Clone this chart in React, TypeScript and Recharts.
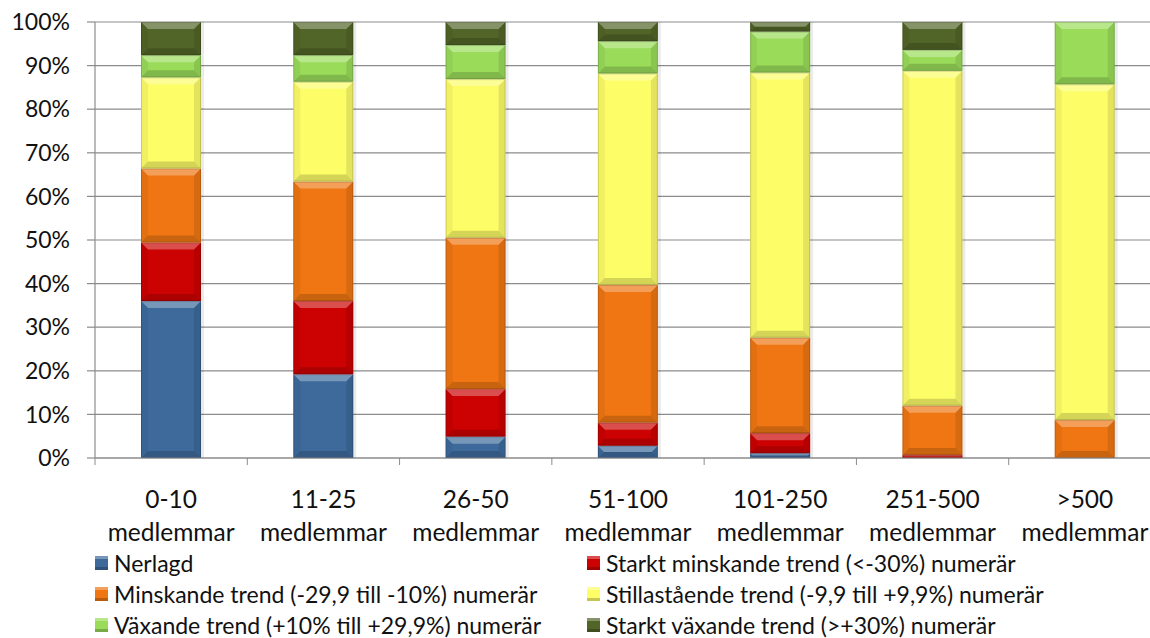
import { BarChart, Bar, XAxis, YAxis, CartesianGrid, Legend } from "recharts";

const groups = ["0-10", "11-25", "26-50", "51-100", "101-250", "251-500", ">500"];
const unitLabel = "medlemmar";

const nerlagd = [36.0, 19.2, 4.9, 2.8, 1.1, 0, 0];
const starktMinskande = [13.4, 16.8, 10.9, 5.3, 4.6, 0.7, 0];
const minskande = [17.0, 27.4, 34.7, 31.6, 21.9, 11.3, 8.7];
const stillastaende = [20.9, 22.9, 36.4, 48.5, 60.8, 76.8, 77.0];
const vaxande = [5.1, 6.1, 7.8, 7.4, 9.4, 4.8, 14.3];
const starktVaxande = [7.6, 7.6, 5.3, 4.4, 2.2, 6.4, 0];

const yTicks = [0, 10, 20, 30, 40, 50, 60, 70, 80, 90, 100];

const series = [
    { key: "nerlagd", name: "Nerlagd", color: "#3d6a9b", values: nerlagd },
    { key: "starktMinskande", name: "Starkt minskande trend (<-30%) numerär", color: "#cc0202", values: starktMinskande },
    { key: "minskande", name: "Minskande trend (-29,9 till -10%) numerär", color: "#ef7612", values: minskande },
    { key: "stillastaende", name: "Stillastående trend (-9,9 till +9,9%) numerär", color: "#fdfd68", values: stillastaende },
    { key: "vaxande", name: "Växande trend (+10% till +29,9%) numerär", color: "#9adc5a", values: vaxande },
    { key: "starktVaxande", name: "Starkt växande trend (>+30%) numerär", color: "#526528", values: starktVaxande },
];

const data = groups.map((group, i) => {
    const row: any = { group };
    series.forEach((s) => (row[s.key] = s.values[i]));
    return row;
});

const FONT = "Lato, 'Open Sans', sans-serif";
const GRID = "#8c8c8c";
const CHART_W = 1175;
const Y_AXIS_W = 95;
const RIGHT = 14;
const BAND = (CHART_W - Y_AXIS_W - RIGHT) / groups.length;

// Excel-style bevelled segment
function BevelBar(props: any) {
    const { x, y, width: w, height: h, fill } = props;
    if (!h || h <= 0) return <g />;
    const b = Math.min(7, h / 2);
    return (
        <g>
            <rect x={x + w} y={y} width={3} height={h} fill="#000" opacity={0.08} />
            <rect x={x} y={y} width={w} height={h} fill={fill} />
            <polygon points={`${x},${y} ${x + w},${y} ${x + w - b},${y + b} ${x + b},${y + b}`} fill="#fff" opacity={0.3} />
            <polygon points={`${x},${y + h} ${x + w},${y + h} ${x + w - b},${y + h - b} ${x + b},${y + h - b}`} fill="#000" opacity={0.16} />
            <polygon points={`${x},${y} ${x + b},${y + b} ${x + b},${y + h - b} ${x},${y + h}`} fill="#000" opacity={0.05} />
            <polygon points={`${x + w},${y} ${x + w - b},${y + b} ${x + w - b},${y + h - b} ${x + w},${y + h}`} fill="#000" opacity={0.1} />
            <rect x={x + 0.5} y={y + 0.5} width={w - 1} height={h - 1} fill="none" stroke="#000" strokeOpacity={0.15} />
        </g>
    );
}

function CategoryTick({ x, y, payload, index }: any) {
    const half = BAND / 2;
    return (
        <g>
            <line x1={x - half} y1={y} x2={x - half} y2={y + 7} stroke={GRID} />
            {index === groups.length - 1 && <line x1={x + half} y1={y} x2={x + half} y2={y + 7} stroke={GRID} />}
            <text x={x} y={y + 50} textAnchor="middle" fill="#111" fontSize={24.5} fontFamily={FONT}>
                {payload.value}
            </text>
            <text x={x} y={y + 83} textAnchor="middle" fill="#111" fontSize={24.5} fontFamily={FONT}>
                {unitLabel}
            </text>
        </g>
    );
}

function LegendContent() {
    return (
        <div
            style={{
                height: 92,
                paddingTop: 1,
                boxSizing: "border-box",
                display: "grid",
                gridTemplateColumns: "492px 560px",
                gridAutoRows: "31px",
                paddingLeft: 95,
                fontFamily: FONT,
                fontSize: 23,
                color: "#111",
            }}
        >
            {series.map((s) => (
                <div key={s.key} style={{ height: 31, display: "flex", alignItems: "center", whiteSpace: "nowrap", lineHeight: "22px" }}>
                    <span
                        style={{
                            display: "inline-block",
                            width: 13,
                            height: 14,
                            marginRight: 6,
                            background: s.color,
                            boxShadow: "inset 0 -3px 0 rgba(0,0,0,0.22), inset 0 3px 0 rgba(255,255,255,0.3)",
                        }}
                    />
                    <span>{s.name}</span>
                </div>
            ))}
        </div>
    );
}

export default function App() {
    return (
        <div style={{ position: "absolute", left: 0, top: 0, width: 1150, height: 638, overflow: "hidden", background: "#fff" }}>
            <BarChart
                width={CHART_W}
                height={638}
                data={data}
                margin={{ top: 22, right: RIGHT, left: 0, bottom: 0 }}
                style={{ fontFamily: FONT }}
            >
                <CartesianGrid horizontal vertical={false} stroke={GRID} strokeWidth={1.2} />
                <XAxis
                    dataKey="group"
                    height={88}
                    axisLine={{ stroke: GRID, strokeWidth: 1.2 }}
                    tickLine={false}
                    tickMargin={0}
                    tickSize={0}
                    interval={0}
                    tick={<CategoryTick />}
                />
                <YAxis
                    width={Y_AXIS_W}
                    domain={[0, 100]}
                    ticks={yTicks}
                    tickFormatter={(v: number) => `${v}%`}
                    axisLine={{ stroke: GRID, strokeWidth: 1.2 }}
                    tickLine={{ stroke: GRID, strokeWidth: 1.2 }}
                    tickSize={8}
                    tickMargin={17}
                    tick={{ fill: "#111", fontSize: 23, fontFamily: FONT }}
                    allowDataOverflow
                />
                <Legend verticalAlign="bottom" content={<LegendContent />} />
                {series.map((s) => (
                    <Bar
                        key={s.key}
                        dataKey={s.key}
                        name={s.name}
                        stackId="a"
                        fill={s.color}
                        barSize={60}
                        shape={<BevelBar />}
                        isAnimationActive={false}
                    />
                ))}
            </BarChart>
        </div>
    );
}
